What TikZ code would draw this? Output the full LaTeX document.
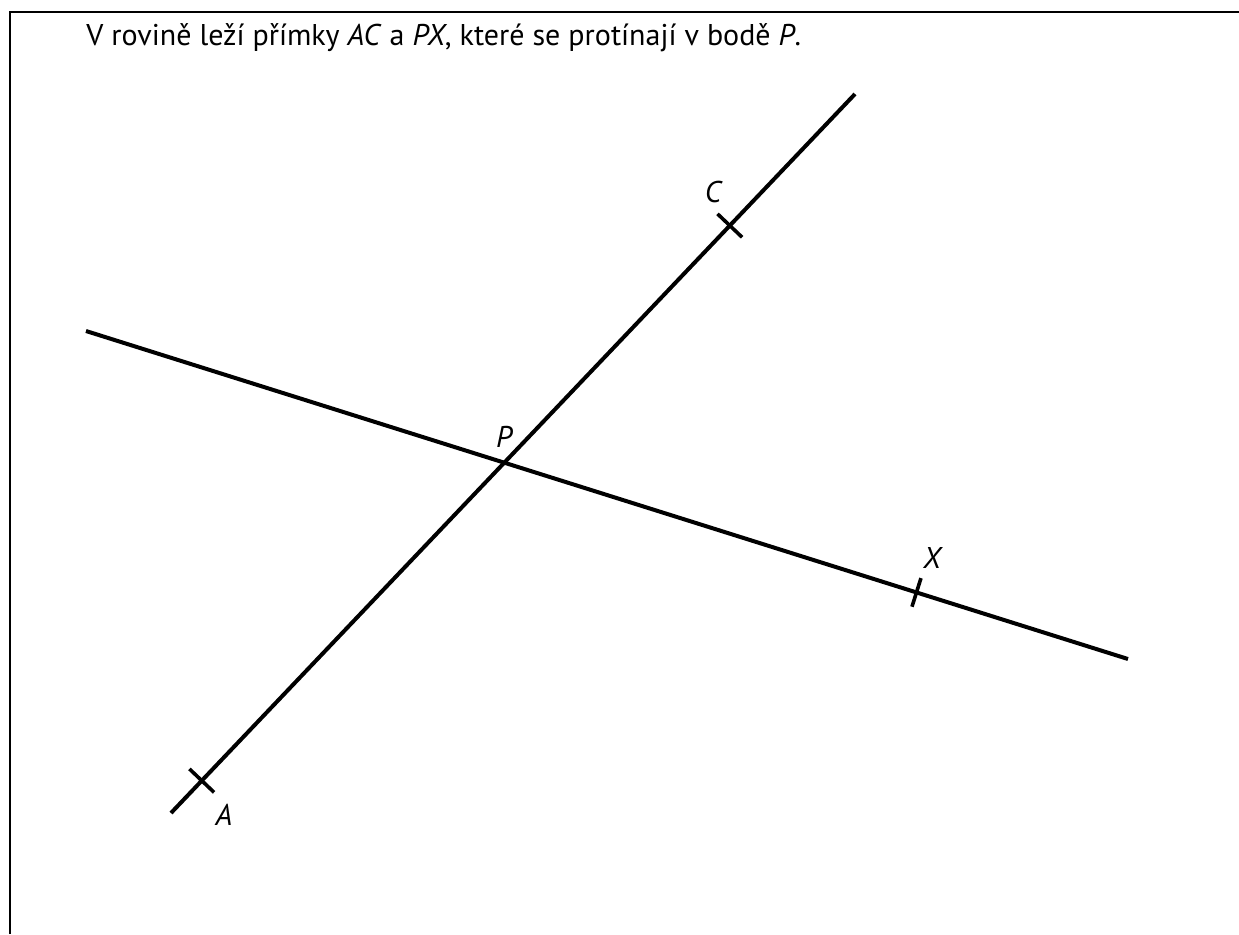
\documentclass[tikz,border=0pt]{standalone}
\usepackage{fontspec}
\setmainfont{PT Sans}
\usetikzlibrary{calc}

\tikzset{
    primka/.style={line width=2pt},
    ryska/.style={line width=1.8pt},
    popis/.style={font=\fontsize{15}{18}\selectfont\itshape, inner sep=0pt}
}

\begin{document}
\begin{tikzpicture}[x=0.5pt, y=-0.5pt]

    \useasboundingbox (0,0) rectangle (1239,934);

    % Frame
    \draw[line width=1.4pt] (10,934) -- (10,12) -- (1239,12);

    % Title
    \node[anchor=base west, inner sep=0pt, font=\fontsize{15}{18}\selectfont] (nadpis) at (86,45)
        {V rovině leží přímky \textit{AC} a \textit{PX}, které se protínají v bodě \textit{P}.};

    % Lines
    \coordinate (AC1) at (171,813);
    \coordinate (AC2) at (855,94);
    \coordinate (PX1) at (86,331);
    \coordinate (PX2) at (1128,659);

    \draw[primka] (AC1) -- (AC2);
    \draw[primka] (PX1) -- (PX2);

    % Points
    \coordinate (A) at ($(AC1)!0.045!(AC2)$);
    \coordinate (C) at ($(AC1)!0.817!(AC2)$);
    \coordinate (P) at (intersection of AC1--AC2 and PX1--PX2);
    \coordinate (X) at ($(PX1)!0.797!(PX2)$);

    % Ticks
    \draw[ryska] ($(A)!8.5pt!90:(AC2)$) -- ($(A)!8.5pt!-90:(AC2)$);
    \draw[ryska] ($(C)!8.5pt!90:(AC2)$) -- ($(C)!8.5pt!-90:(AC2)$);
    \draw[ryska] ($(X)!7.5pt!90:(PX2)$) -- ($(X)!7.5pt!-90:(PX2)$);

    % Labels
    \node[popis] (lA) at (224,815) {A};
    \node[popis] (lC) at (713,192) {C};
    \node[popis] (lP) at (504,437) {P};
    \node[popis] (lX) at (932,558) {X};

\end{tikzpicture}
\end{document}
